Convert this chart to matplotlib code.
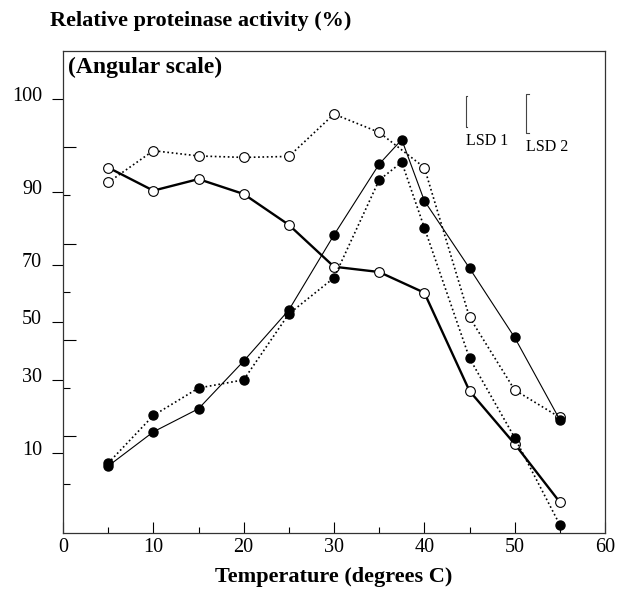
import matplotlib.pyplot as plt
from matplotlib.transforms import ScaledTranslation

plt.rcParams['font.family'] = ['Liberation Serif', 'DejaVu Serif']

# Temperatures (degrees C)
temp_open = [5, 10, 15, 20, 25, 30, 35, 40, 45, 50, 55]
temp_filled = [5, 10, 15, 20, 25, 30, 35, 37.5, 40, 45, 50, 55]

# Relative proteinase activity, angular scale units
open_dotted = [72.7, 79.3, 78.2, 77.9, 78.1, 86.9, 83.1, 75.8, 44.7, 29.6, 23.9]
open_solid = [75.8, 71.0, 73.4, 70.3, 63.9, 55.2, 54.1, 49.8, 29.4, 18.4, 6.3]
filled_solid = [13.8, 20.9, 25.7, 35.6, 46.2, 61.8, 76.5, 81.6, 68.9, 54.9, 40.5, 23.4]
filled_dotted = [14.4, 24.3, 30.0, 31.7, 45.4, 52.9, 73.2, 76.9, 63.3, 36.2, 19.7, 1.6]

# percent labels and where they sit on the angular axis
pct_labels = ['100', '90', '70', '50', '30', '10']
pct_pos = [90.0, 70.7, 55.6, 43.8, 31.7, 16.5]

# least significant differences (angular units)
lsd_names = ['LSD 1', 'LSD 2']
lsd_values = [6.4, 8.0]
lsd_x = [44.6, 51.2]
lsd_top = [90.7, 91.0]

W, H = 619, 589
fig = plt.figure(figsize=(W / 100, H / 100), dpi=100)
ax = fig.add_axes([63 / W, 1 - 532.5 / H, 542 / W, 481.5 / H])

dots = (0, (1, 1.6))
ax.plot(temp_open, open_dotted, linestyle=dots, color='black', lw=1.2,
        marker='o', ms=7, mfc='white', mec='black', mew=0.8)
ax.plot(temp_open, open_solid, linestyle='-', color='black', lw=1.7,
        marker='o', ms=7, mfc='white', mec='black', mew=0.8)
ax.plot(temp_filled, filled_solid, linestyle='-', color='black', lw=0.8,
        marker='o', ms=6.5, mfc='black', mec='black')
ax.plot(temp_filled, filled_dotted, linestyle=dots, color='black', lw=1.2,
        marker='o', ms=6.5, mfc='black', mec='black')

# LSD brackets
for name, val, x, top, d in zip(lsd_names, lsd_values, lsd_x, lsd_top, [0.15, 0.35]):
    ax.plot([x + d, x, x, x + d], [top, top, top - val, top - val], color='#444444', lw=0.8)
    ax.text(x, top - val - 2.9, name, fontsize=11.5, ha='left', va='center')

ax.set_xlim(0, 60)
ax.set_ylim(0, 100)

ax.set_xticks(range(0, 61, 10))
ax.set_xticks(range(5, 60, 10), minor=True)
ax.tick_params(axis='x', which='major', direction='in', length=8, width=0.8, labelsize=14.5, pad=4)
ax.tick_params(axis='x', which='minor', direction='in', length=4.5, width=0.8)

ax.set_yticks(pct_pos, pct_labels)
ax.set_yticks([10, 30, 50, 70], minor=True)
ax.tick_params(axis='y', which='major', direction='out', length=8, width=0.8, labelsize=14.5, pad=7)
ax.tick_params(axis='y', which='minor', direction='in', length=5, width=0.8)
for lab in ax.get_yticklabels():
    lab.set_transform(lab.get_transform() + ScaledTranslation(0, 0.05, fig.dpi_scale_trans))

sec = ax.secondary_yaxis('left')
sec.set_yticks([20, 40, 60, 80], labels=[])
sec.tick_params(direction='in', length=9, width=0.8)
sec.spines['left'].set_visible(False)

for sp in ax.spines.values():
    sp.set_color('#333333')
    sp.set_linewidth(0.9)

ax.text(0.009, 0.966, '(Angular scale)', transform=ax.transAxes, fontsize=17,
        fontweight='bold', ha='left', va='center')
fig.text(50 / W, 1 - 21 / H, 'Relative proteinase activity (%)', fontsize=16,
         fontweight='bold', ha='left', va='center')
fig.text(334 / W, 1 - 577 / H, 'Temperature (degrees C)', fontsize=16,
         fontweight='bold', ha='center', va='center')

fig.savefig('out.png', dpi=100)
